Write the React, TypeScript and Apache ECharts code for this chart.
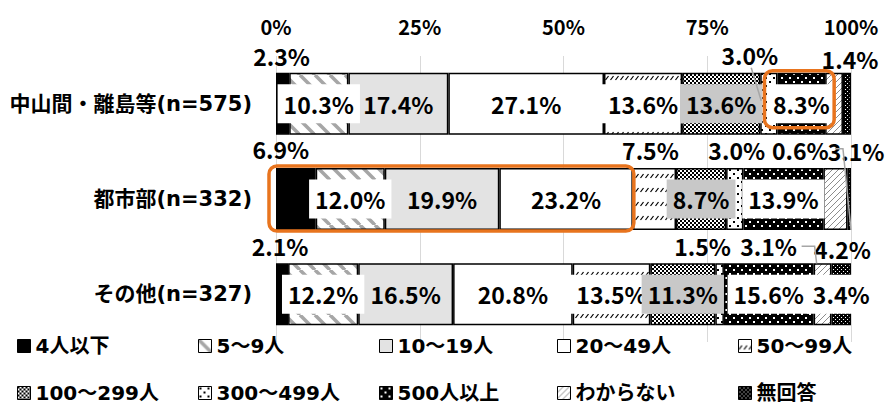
import React, { useEffect, useRef } from 'react';
import * as echarts from 'echarts';

const categories = ['中山間・離島等(n=575)', '都市部(n=332)', 'その他(n=327)'];
const seriesNames = ['4人以下', '5〜9人', '10〜19人', '20〜49人', '50〜99人', '100〜299人', '300〜499人', '500人以上', 'わからない', '無回答'];

const upTo4 = [2.3, 6.9, 2.1];
const from5to9 = [10.3, 12.0, 12.2];
const from10to19 = [17.4, 19.9, 16.5];
const from20to49 = [27.1, 23.2, 20.8];
const from50to99 = [13.6, 7.5, 13.5];
const from100to299 = [13.6, 8.7, 11.3];
const from300to499 = [3.0, 3.0, 1.5];
const over500 = [8.3, 13.9, 15.6];
const unknown = [3.1, 4.2, 3.1];
const noAnswer = [1.4, 0.6, 3.4];

const xTicks = [0, 25, 50, 75, 100];

const NUM_FONT = "'Liberation Sans Narrow', 'Noto Sans CJK JP', sans-serif";
const CAT_FONT = "'DejaVu Sans', 'Noto Sans CJK JP', sans-serif";

type P = { pos: string; dx?: number; dy?: number; bg?: string };
const IW: P = { pos: 'inside', bg: '#ffffff' };
const IG: P = { pos: 'inside', bg: '#c8c8c8' };
const IN: P = { pos: 'inside' };
const placement: P[][] = [
  [{ pos: 'top', dx: -1, dy: 0 }, { pos: 'top', dx: -15, dy: -3 }, { pos: 'top', dx: -2, dy: -1 }],
  [IW, IW, IW],
  [IN, IN, IN],
  [IN, IN, IN],
  [IW, { pos: 'top', dx: -4, dy: -2 }, IW],
  [IG, IG, IG],
  [{ pos: 'top', dx: -19, dy: -1 }, { pos: 'top', dx: 2, dy: -2 }, { pos: 'top', dx: -17, dy: -1 }],
  [IW, IW, IW],
  [{ pos: 'bottom', dx: 22, dy: 0 }, { pos: 'bottom', dx: 7, dy: 2 }, { pos: 'top', dx: -54, dy: -1 }],
  [{ pos: 'top', dx: 3, dy: 3 }, { pos: 'top', dx: -49, dy: -2 }, IW],
];

function tile(w: number, h: number, bg: string, draw: (ctx: CanvasRenderingContext2D) => void) {
  const c = document.createElement('canvas');
  c.width = w;
  c.height = h;
  const ctx = c.getContext('2d')!;
  ctx.fillStyle = bg;
  ctx.fillRect(0, 0, w, h);
  draw(ctx);
  return { image: c, repeat: 'repeat', imageWidth: w, imageHeight: h } as any;
}

function makeFills() {
  const p5 = tile(15, 15, '#ffffff', (ctx) => {
    ctx.strokeStyle = '#a6a6a6';
    ctx.lineWidth = 3.5;
    for (const x0 of [-15, 0, 15]) {
      ctx.beginPath();
      ctx.moveTo(x0, 0);
      ctx.lineTo(x0 + 15, 15);
      ctx.stroke();
    }
  });
  const p50 = tile(5, 14, '#ffffff', (ctx) => {
    ctx.strokeStyle = '#000';
    ctx.lineWidth = 1.2;
    ctx.beginPath();
    ctx.moveTo(0.5, 10);
    ctx.lineTo(3.5, 6);
    ctx.stroke();
  });
  const p100 = tile(4, 4, '#ffffff', (ctx) => {
    ctx.fillStyle = '#000';
    ctx.fillRect(0, 0, 2, 2);
    ctx.fillRect(2, 2, 2, 2);
  });
  const p300 = tile(8, 8, '#ffffff', (ctx) => {
    ctx.fillStyle = '#000';
    ctx.fillRect(1, 1, 2, 2);
    ctx.fillRect(5, 5, 2, 2);
  });
  const p500 = tile(8, 8, '#000000', (ctx) => {
    ctx.fillStyle = '#fff';
    ctx.fillRect(1, 1, 2, 2);
    ctx.fillRect(5, 5, 2, 2);
  });
  const pUnk = tile(6, 6, '#ffffff', (ctx) => {
    ctx.strokeStyle = '#8c8c8c';
    ctx.lineWidth = 1;
    for (const x0 of [-6, 0, 6]) {
      ctx.beginPath();
      ctx.moveTo(x0, 6);
      ctx.lineTo(x0 + 6, 0);
      ctx.stroke();
    }
  });
  const pNA = tile(4, 4, '#000000', (ctx) => {
    ctx.fillStyle = '#fff';
    ctx.fillRect(1, 1, 1, 1);
    ctx.fillRect(3, 3, 1, 1);
  });
  return ['#000000', p5, '#e3e3e3', '#ffffff', p50, p100, p300, p500, pUnk, pNA];
}

export default function App() {
  const ref = useRef<HTMLDivElement>(null);
  useEffect(() => {
    document.body.style.margin = '0';
    const chart = echarts.init(ref.current!, undefined, { renderer: 'svg' });
    const raw = [upTo4, from5to9, from10to19, from20to49, from50to99, from100to299, from300to499, over500, unknown, noAnswer];
    const totals = categories.map((_, i) => raw.reduce((s, a) => s + a[i], 0));
    const norm = raw.map((a) => a.map((v, i) => (v / totals[i]) * 100));
    const fills = makeFills();

    const series = raw.map((arr, si) => ({
      type: 'bar',
      name: seriesNames[si],
      stack: 'total',
      barWidth: 62,
      itemStyle: { color: fills[si], borderColor: '#000', borderWidth: 1.5 },
      emphasis: { disabled: true },
      label: {
        show: true,
        formatter: (q: any) => arr[q.dataIndex].toFixed(1) + '%',
        color: '#000',
        fontFamily: NUM_FONT,
        fontSize: 23,
        fontWeight: 'bold',
      },
      labelLayout: (q: any) => {
        const p = placement[si][q.dataIndex];
        return { dx: p.dx ?? 0, dy: p.dy ?? 0 };
      },
      data: arr.map((_, i) => {
        const p = placement[si][i];
        return {
          value: norm[si][i],
          label: {
            position: p.pos,
            backgroundColor: p.bg ?? 'transparent',
            padding: p.bg ? [8, 6] : 0,
          },
        };
      }),
    }));

    const legendCols = [17, 198, 379, 557, 738];
    const legendRows = [336, 383];
    const legends = seriesNames.map((n, k) => ({
      data: [n],
      left: legendCols[k % 5],
      top: legendRows[Math.floor(k / 5)],
      padding: 0,
      icon: 'rect',
      itemWidth: 13,
      itemHeight: 13,
      selectedMode: false,
      itemStyle: { borderColor: '#000', borderWidth: 1 },
      textStyle: { fontFamily: CAT_FONT, fontSize: 20, fontWeight: 'bold', color: '#000' },
    }));

    chart.setOption({
      animation: false,
      backgroundColor: '#ffffff',
      grid: { left: 276, right: 36, top: 56, bottom: 62 },
      legend: legends,
      xAxis: {
        type: 'value',
        position: 'top',
        min: xTicks[0],
        max: xTicks[xTicks.length - 1],
        interval: xTicks[1] - xTicks[0],
        axisLine: { show: false },
        axisTick: { show: false },
        splitLine: { show: true, lineStyle: { color: '#d9d9d9', width: 1 } },
        axisLabel: {
          formatter: (v: number) => v + '%',
          fontFamily: NUM_FONT,
          fontSize: 20,
          fontWeight: 'bold',
          color: '#000',
          margin: 20,
        },
      },
      yAxis: {
        type: 'category',
        data: categories,
        inverse: true,
        axisLine: { show: false },
        axisTick: { show: false },
        axisLabel: { margin: 24, fontFamily: CAT_FONT, fontSize: 21, fontWeight: 'bold', color: '#000' },
      },
      series,
    });

    const px = (v: number, row: number) => chart.convertToPixel({ gridIndex: 0 }, [v, row]) as number[];
    const cumAt = (row: number, k: number) => norm.slice(0, k).reduce((s, a) => s + a[row], 0);
    const half = 31;
    const r0y = px(0, 0)[1];
    const r1y = px(0, 1)[1];
    const r2y = px(0, 2)[1];
    const b0x0 = px(cumAt(0, 7), 0)[0] - 13;
    const b0x1 = px(cumAt(0, 8), 0)[0] + 9;
    const b1x0 = px(0, 1)[0] - 7;
    const b1x1 = px(cumAt(1, 4), 1)[0] + 1;
    const box = (x0: number, y0: number, x1: number, y1: number) => ({
      type: 'rect',
      z: 100,
      shape: { x: x0, y: y0, width: x1 - x0, height: y1 - y0, r: 8 },
      style: { fill: 'none', stroke: '#E8741E', lineWidth: 3.5 },
    });
    const lead = (pts: number[][]) => ({
      type: 'polyline',
      z: 90,
      shape: { points: pts },
      style: { fill: 'none', stroke: '#a6a6a6', lineWidth: 1.5 },
    });
    const s300r0 = px(cumAt(0, 6), 0)[0];
    const unkR0 = px(cumAt(0, 9), 0)[0];
    const endR0 = px(cumAt(0, 10), 0)[0];
    const unkL2 = px(cumAt(2, 8), 2)[0];
    chart.setOption({
      graphic: [
        box(b0x0, r0y - half - 2, b0x1, r0y + half - 7),
        box(b1x0, r1y - half - 2, b1x1, r1y + half + 1),
        lead([[s300r0 - 9, r0y - half - 5], [s300r0 + 1, r0y - half + 28]]),
        lead([[unkR0 - 8, r0y + half + 14], [unkR0, r0y + half + 14], [endR0, r1y + half]]),
        lead([[unkL2 - 12, r2y - half - 17], [unkL2 + 1, r2y - half - 17], [unkL2 + 3, r2y - half]]),
      ],
    });

    return () => chart.dispose();
  }, []);
  return <div ref={ref} style={{ width: 887, height: 404 }} />;
}
